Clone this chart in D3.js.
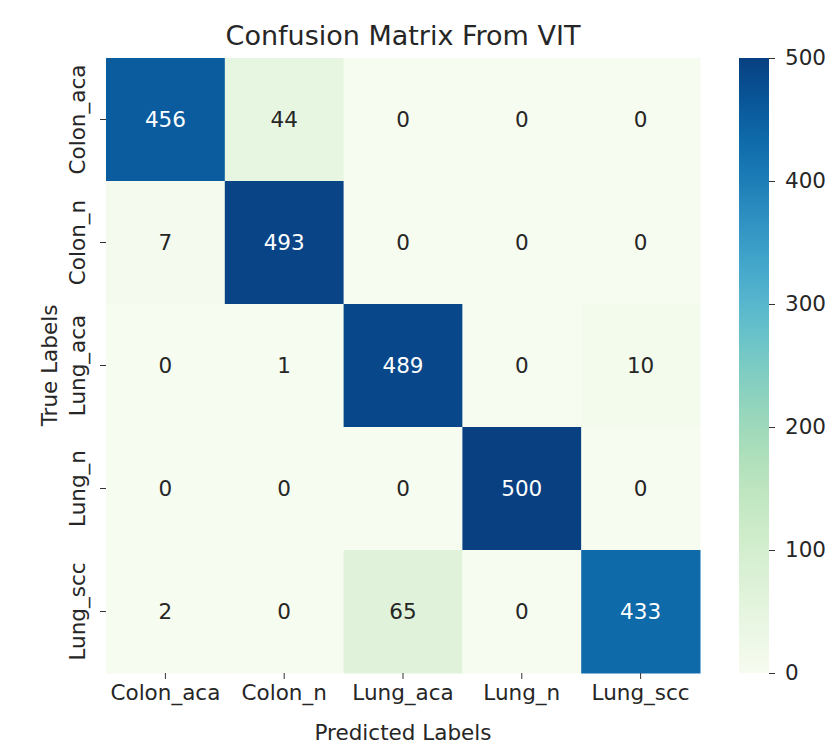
<!DOCTYPE html>
<html>
<head>
<meta charset="utf-8">
<script src="https://cdn.jsdelivr.net/npm/d3@7"></script>
<style>
  body { margin: 0; background: #fff; }
  svg text { font-family: "DejaVu Sans", sans-serif; fill: #262626; }
</style>
</head>
<body>
<div class="chart-container"></div>
<script>
var width = 840;
var height = 753;

// Class names and confusion counts (rows = true, cols = predicted)
var classes = ['Colon_aca', 'Colon_n', 'Lung_aca', 'Lung_n', 'Lung_scc'];
var rowColonAca = [456, 44, 0, 0, 0];
var rowColonN = [7, 493, 0, 0, 0];
var rowLungAca = [0, 1, 489, 0, 10];
var rowLungN = [0, 0, 0, 500, 0];
var rowLungScc = [2, 0, 65, 0, 433];
var colorbarTicks = [0, 100, 200, 300, 400, 500];

var matrix = [rowColonAca, rowColonN, rowLungAca, rowLungN, rowLungScc];

// Heatmap box
var hmLeft = 106, hmTop = 58, hmRight = 700, hmBottom = 673;
var fontSize = '21.5px';

var svg = d3.select('.chart-container')
  .append('svg')
  .attr('width', width)
  .attr('height', height);

var xScale = d3.scaleBand().domain(classes).range([hmLeft, hmRight]);
var yScale = d3.scaleBand().domain(classes).range([hmTop, hmBottom]);
var color = d3.scaleSequential(d3.interpolateGnBu).domain([0, 500]);

var cells = [];
matrix.forEach(function (row, i) {
  row.forEach(function (v, j) {
    cells.push({ t: classes[i], p: classes[j], v: v });
  });
});

svg.append('g')
  .selectAll('rect')
  .data(cells)
  .enter()
  .append('rect')
  .attr('x', d => xScale(d.p))
  .attr('y', d => yScale(d.t))
  .attr('width', xScale.bandwidth() + 0.5)
  .attr('height', yScale.bandwidth() + 0.5)
  .style('fill', d => color(d.v));

// Annotations
svg.append('g')
  .selectAll('text')
  .data(cells)
  .enter()
  .append('text')
  .attr('x', d => xScale(d.p) + xScale.bandwidth() / 2)
  .attr('y', d => yScale(d.t) + yScale.bandwidth() / 2)
  .attr('dy', '0.36em')
  .attr('text-anchor', 'middle')
  .style('font-size', fontSize)
  .style('fill', function (d) {
    var c = d3.rgb(color(d.v));
    var lum = (0.2126 * c.r + 0.7152 * c.g + 0.0722 * c.b) / 255;
    return lum < 0.45 ? '#ffffff' : '#262626';
  })
  .text(d => d.v);

// X axis
var xAxis = svg.append('g')
  .attr('transform', 'translate(0,' + hmBottom + ')')
  .call(d3.axisBottom(xScale).tickSize(6).tickPadding(0));
xAxis.select('.domain').remove();
xAxis.selectAll('line').attr('stroke', '#333');
xAxis.selectAll('text')
  .attr('y', 27)
  .attr('dy', 0)
  .style('font-size', fontSize);

// Y axis with rotated labels
var yAxis = svg.append('g')
  .attr('transform', 'translate(' + hmLeft + ',0)')
  .call(d3.axisLeft(yScale).tickSize(6));
yAxis.select('.domain').remove();
yAxis.selectAll('line').attr('stroke', '#333');
yAxis.selectAll('text')
  .attr('transform', 'rotate(-90)')
  .attr('x', 0)
  .attr('y', -21)
  .attr('dy', 0)
  .attr('text-anchor', 'middle')
  .style('font-size', fontSize);

// Title and axis labels
svg.append('text')
  .attr('x', (hmLeft + hmRight) / 2)
  .attr('y', 45)
  .attr('text-anchor', 'middle')
  .style('font-size', '27px')
  .text('Confusion Matrix From VIT');

svg.append('text')
  .attr('x', (hmLeft + hmRight) / 2)
  .attr('y', 740)
  .attr('text-anchor', 'middle')
  .style('font-size', fontSize)
  .text('Predicted Labels');

svg.append('text')
  .attr('transform', 'translate(57,' + (hmTop + hmBottom) / 2 + ') rotate(-90)')
  .attr('text-anchor', 'middle')
  .style('font-size', fontSize)
  .text('True Labels');

// Colorbar
var cbLeft = 739, cbWidth = 30;
var cbScale = d3.scaleLinear().domain([0, 500]).range([hmBottom, hmTop]);

var defs = svg.append('defs');
var grad = defs.append('linearGradient')
  .attr('id', 'cbgrad')
  .attr('x1', 0).attr('y1', 1)
  .attr('x2', 0).attr('y2', 0);
d3.range(0, 1.0001, 0.05).forEach(function (t) {
  grad.append('stop')
    .attr('offset', t)
    .attr('stop-color', color(t * 500));
});

svg.append('rect')
  .attr('x', cbLeft)
  .attr('y', hmTop)
  .attr('width', cbWidth)
  .attr('height', hmBottom - hmTop)
  .style('fill', 'url(#cbgrad)');

var cbAxis = svg.append('g')
  .attr('transform', 'translate(' + (cbLeft + cbWidth) + ',0)')
  .call(d3.axisRight(cbScale).tickValues(colorbarTicks).tickSize(6).tickPadding(10));
cbAxis.select('.domain').remove();
cbAxis.selectAll('line').attr('stroke', '#333');
cbAxis.selectAll('text').style('font-size', fontSize);
</script>
</body>
</html>
